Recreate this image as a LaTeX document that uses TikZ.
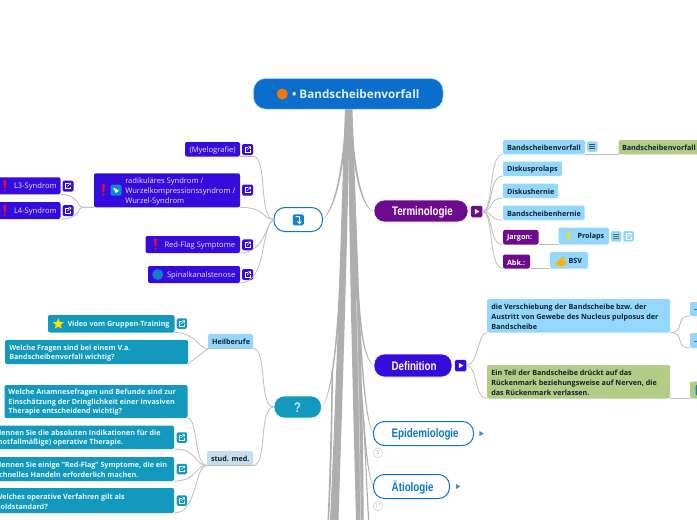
\documentclass[tikz,border=0pt]{standalone}
\usepackage{fontspec}
\setmainfont{Open Sans}
\newfontfamily\headf[FakeStretch=0.79]{Liberation Sans}
\usetikzlibrary{shapes.geometric,calc}
\definecolor{rootblue}{HTML}{0A6FCC}
\definecolor{pillblue}{HTML}{0A75D0}
\definecolor{purp}{HTML}{6D0A8E}
\definecolor{indigo}{HTML}{360CDE}
\definecolor{teal}{HTML}{1299BD}
\definecolor{sky}{HTML}{93D7FD}
\definecolor{leaf}{HTML}{B3CC85}
\definecolor{stud}{HTML}{C3DDEB}
\definecolor{ink}{HTML}{10232E}
\definecolor{trunkg}{HTML}{AEAEAE}
\definecolor{wire}{HTML}{BDBDBD}
\definecolor{bangred}{HTML}{E8101C}
\tikzset{
 x=1pt,y=-1pt,
 boxbase/.style={inner sep=0pt,outer sep=0pt,rounded corners=2pt},
 txtbase/.style={inner sep=0pt,outer sep=0pt,anchor=west,align=left,yshift=-1pt,font=\fontsize{7.2}{9.6}\selectfont\bfseries},
 indbox/.style={boxbase,fill=indigo},
 indtxt/.style={txtbase,text=white!88!indigo,font=\fontsize{7.6}{9.8}\selectfont},
 tealbox/.style={boxbase,fill=teal},
 tealtxt/.style={txtbase,text=white!92!teal},
 skybox/.style={boxbase,fill=sky},
 skytxt/.style={txtbase,text=ink},
 leafbox/.style={boxbase,fill=leaf},
 leaftxt/.style={txtbase,text=ink},
 studbox/.style={boxbase,fill=stud},
 studtxt/.style={txtbase,text=ink},
 purpbox/.style={boxbase,fill=purp},
 purptxt/.style={txtbase,text=white},
 rootbox/.style={boxbase,rounded corners=12pt,fill=rootblue,draw=white!70!rootblue,line width=.5pt},
 roottxt/.style={txtbase,yshift=1pt,text=white!88!rootblue,font=\fontsize{11.7}{14}\selectfont\bfseries},
 pillpbox/.style={boxbase,rounded corners=10.5pt,fill=purp,draw=white,line width=.6pt},
 pillptxt/.style={txtbase,text=white,font=\headf\fontsize{12.4}{14}\selectfont\bfseries},
 pillibox/.style={boxbase,rounded corners=10.5pt,fill=indigo,draw=white,line width=.6pt},
 pillitxt/.style={txtbase,text=white,font=\headf\fontsize{12.4}{14}\selectfont\bfseries},
 pilltbox/.style={boxbase,rounded corners=10.5pt,fill=teal,draw=white,line width=.6pt},
 pillttxt/.style={txtbase,text=white!75!teal,font=\headf\fontsize{14}{14}\selectfont\bfseries},
 pillwbox/.style={boxbase,rounded corners=11pt,fill=white,draw=pillblue,line width=1pt},
 pillwtxt/.style={txtbase,text=pillblue,font=\headf\fontsize{12.4}{14}\selectfont\bfseries},
 iconbox/.style={inner sep=0pt,outer sep=0pt,rounded corners=1.5pt},
 wireline/.style={draw=wire,line width=.8pt,fill=none},
 trunkfill/.style={fill=trunkg,draw=none},
 countcirc/.style={circle,draw=black!18,fill=white,line width=.6pt,inner sep=0pt,minimum size=9.5pt,text=black!35,font=\fontsize{5.5}{6}\selectfont},
}
% [style]{name}{x0}{y0}{x1}{y1}{text x}{text}
\newcommand{\mmbox}[8][sky]{%
 \node[#1box,minimum width={(#5)-(#3)},minimum height={(#6)-(#4)}] (#2) at ({((#3)+(#5))/2},{((#4)+(#6))/2}) {};
 \node[#1txt] (#2T) at (#7,{((#4)+(#6))/2}) {#8};}
\newcommand{\iconbg}[5]{\node[iconbox,fill=#5,minimum width=#4,minimum height=#4] (#1) at (#2,#3) {};}
\newcommand{\linkicon}[5]{\iconbg{#1}{#2}{#3}{#4}{#5}
 \begin{scope}[shift={(#1.center)}]
 \draw[white,line width=.55pt] (.5,-2.6) -- (-2.6,-2.6) -- (-2.6,2.6) -- (2.6,2.6) -- (2.6,.5);
 \draw[white,line width=.55pt] (-.6,.6) -- (2.6,-2.6) (.6,-2.8) -- (2.8,-2.8) -- (2.8,-.6);
 \end{scope}}
\newcommand{\menuicon}[6]{\iconbg{#1}{#2}{#3}{#4}{#5}
 \begin{scope}[shift={(#1.center)}]
 \draw[#6,line width=.6pt] (-3,-2.2) -- (3,-2.2) (-3,0) -- (3,0) (-3,2.2) -- (3,2.2);
 \end{scope}}
\newcommand{\bang}[2]{\fill[bangred] (#1-1.4,#2-5.6) -- (#1+1.4,#2-5.6) -- (#1+.7,#2+2.2) -- (#1-.7,#2+2.2) -- cycle (#1,#2+4.4) circle (1.1pt);}
\newcommand{\playicon}[3]{\fill[#3] (#1-2.2,#2-2.6) -- (#1+2.4,#2) -- (#1-2.2,#2+2.6) -- cycle;}
\begin{document}
\begin{tikzpicture}
\clip (0,0) rectangle (697,520);
\useasboundingbox (0,0) rectangle (697,520);
\fill[white] (0,0) rectangle (697,520);

% free ends of the trunk branches, equal to the node sides placed below
\coordinate (aE) at (322.5,219.5);
\coordinate (qE) at (321.5,407);
\coordinate (tW) at (374,211);
\coordinate (dW) at (374,365.5);
\coordinate (eW) at (373.5,433.5);
\coordinate (aeW) at (373.5,486.5);

% trunks
\fill[trunkfill] (345,109) .. controls (341.5,200) and (338,350) .. (330,520) -- (338.5,520) .. controls (343,380) and (348,230) .. (349.5,109) -- cycle;
\fill[trunkfill] (348,109) .. controls (349,250) and (353,400) .. (356,520) -- (363.5,520) .. controls (364,380) and (355,200) .. (352.5,109) -- cycle;
\draw[white!60!trunkg,line width=.5pt] (356.5,300) .. controls (358.5,380) and (360,450) .. (360.5,520);
% tapered branches
\fill[trunkfill] (345,125) .. controls (341.5,170) and (335,208) .. (aE) .. controls (336.5,209) and (343.5,170) .. (347,125) -- cycle;
\fill[trunkfill] (350,125) .. controls (353,170) and (361,210) .. (tW) .. controls (362.5,209) and (355,170) .. (352.5,125) -- cycle;
\fill[trunkfill] (340.8,250) .. controls (338,320) and (333,395) .. (qE) .. controls (334.5,394) and (340,320) .. (342.3,250) -- cycle;
\fill[trunkfill] (355,250) .. controls (358,320) and (362,360) .. (dW) .. controls (363,358) and (360,320) .. (356.5,250) -- cycle;
\fill[trunkfill] (358.5,320) .. controls (362,380) and (366,425) .. (eW) .. controls (367,423) and (363.5,380) .. (360,320) -- cycle;
\fill[trunkfill] (360.5,390) .. controls (363.5,430) and (367,480) .. (aeW) .. controls (368,478) and (365,430) .. (362,390) -- cycle;
\fill[trunkfill] (331.5,370) .. controls (331,430) and (329,490) .. (327.5,520) -- (329,520) .. controls (331,490) and (332.5,430) .. (333,370) -- cycle;
\fill[trunkfill] (363,420) .. controls (365,460) and (367,500) .. (368,520) -- (369.3,520) .. controls (368,500) and (366,460) .. (364.2,420) -- cycle;

% ---- nodes
\mmbox[root]{root}{253.5}{78.5}{443}{109}{292}{• Bandscheibenvorfall}
\fill[orange!90!red] (282.3,94) circle (5.5pt);

% left upper group
\mmbox[pillw]{nA}{274}{207.5}{322.5}{231.5}{300}{}
\mmbox[ind]{my}{185}{142}{240}{156.5}{189.5}{(Myelografie)}
\linkicon{myL}{247.7}{149.5}{11}{indigo}
\mmbox[ind]{ra}{94}{173.3}{240}{207.3}{125.3}{radikuläres Syndrom /\\Wurzelkompressionssyndrom /\\Wurzel-Syndrom}
\linkicon{raL}{247.7}{190}{11}{indigo}
\mmbox[ind]{la}{-10}{177.3}{60.5}{194.3}{14}{L3-Syndrom}
\linkicon{laL}{68}{186}{11}{indigo}
\mmbox[ind]{lb}{-10}{202}{60.5}{219}{14}{L4-Syndrom}
\linkicon{lbL}{68}{210.5}{11}{indigo}
\mmbox[ind]{rf}{145.5}{236}{240}{253}{164.5}{Red-Flag Symptome}
\linkicon{rfL}{247.7}{244.8}{11}{indigo}
\mmbox[ind]{sp}{148}{266}{240}{283}{167}{Spinalkanalstenose}
\linkicon{spL}{247.7}{274.5}{11}{indigo}
\bang{103.5}{190}\bang{4.8}{186}\bang{4.8}{210.5}\bang{155.5}{244.5}
\node[iconbox,fill=cyan!70!blue,minimum width=11pt,minimum height=11pt] (raI) at (116,190) {};
\fill[white] (113,187.5) -- (119,190.5) -- (116,193) -- cycle;
\node[circle,fill=cyan!60!blue,inner sep=0pt,minimum size=11pt] (spI) at (157.8,274.5) {};
\node[iconbox,fill=cyan!65!blue,minimum width=11pt,minimum height=11pt] (nAI) at (298.3,219.8) {};
\draw[white,line width=1pt] (295.5,216.5) -- (299.5,216.5) -- (299.5,222.5) (297.5,221.5) -- (299.5,223.5) -- (301.5,221.5);

% left lower group
\mmbox[pillt]{nQ}{274}{396}{321.5}{418}{294}{?}
\mmbox[sky]{he}{208}{334}{253}{348.5}{212}{Heilberufe}
\mmbox[stud]{st}{207}{451}{253}{465.5}{211}{stud. med.}
\mmbox[teal]{vi}{48}{315}{174.5}{332.5}{67.5}{Video vom Gruppen-Training}
\node[star,star points=5,star point ratio=2.2,fill=yellow!85!orange,inner sep=0pt,minimum size=11.5pt] (viS) at (58.3,324) {};
\linkicon{viL}{181.8}{323.5}{10.5}{teal}
\mmbox[teal]{wf}{5}{340}{188}{364}{9.3}{Welche Fragen sind bei einem V.a.\\Bandscheibenvorfall wichtig?}
\mmbox[teal]{an}{4.5}{385}{187.5}{418}{8.5}{Welche Anamnesefragen und Befunde sind zur\\Einschätzung der Dringlichkeit einer invasiven\\Therapie entscheidend wichtig?}
\mmbox[teal]{na}{-8}{425.5}{174}{449}{-4.5}{Nennen Sie die absoluten Indikationen für die\\(notfallmäßige) operative Therapie.}
\linkicon{naL}{181.8}{437.5}{10.5}{teal}
\mmbox[teal]{nb}{-8}{457}{174}{481}{-4.5}{Nennen Sie einige "Red-Flag" Symptome, die ein\\schnelles Handeln erforderlich machen.}
\linkicon{nbL}{181.8}{469}{10.5}{teal}
\mmbox[teal]{wo}{-8}{488}{174}{513}{-4.5}{Welches operative Verfahren gilt als\\Goldstandard?}
\linkicon{woL}{181.8}{500.5}{10.5}{teal}

% right upper group
\mmbox[pillp]{te}{374}{200}{468}{222}{392}{Terminologie}
\iconbg{teA}{476.7}{211.5}{11.5}{purp}\playicon{477}{211.5}{white}
\mmbox[sky]{ba}{503}{140}{585}{154.3}{507}{Bandscheibenvorfall}
\menuicon{baM}{592.3}{146.5}{10.5}{sky}{ink!80}
\mmbox[leaf]{gb}{618.5}{140}{710}{154.3}{622}{Bandscheibenvorfall}
\mmbox[sky]{dp}{503}{161.5}{562}{176}{507}{Diskusprolaps}
\mmbox[sky]{dh}{503}{183.5}{558}{198}{507}{Diskushernie}
\mmbox[sky]{bh}{503}{205.5}{584.5}{220}{507}{Bandscheibenhernie}
\mmbox[purp]{ja}{503}{230}{538.5}{244.5}{507}{Jargon:}
\mmbox[sky]{pr}{558.5}{227.5}{609}{244.5}{577.5}{Prolaps}
\menuicon{prM}{616.2}{236.3}{10.5}{sky}{ink!65}
\linkicon{prL}{628.5}{236.3}{10.5}{sky}
\mmbox[purp]{ab}{503}{254.5}{530}{268.5}{507}{Abk.:}
\mmbox[sky]{bs}{550}{252}{588}{268.5}{568.5}{BSV}
\fill[yellow!80!orange] (570,231) -- (566.5,236.5) -- (568.5,236.5) -- (566.5,241.5) -- (571.5,235) -- (569.3,235) -- (571.5,231) -- cycle;
\fill[orange!60!yellow] (555,265) -- (558,261) -- (563,256.5) -- (565,258) -- (562,260.5) -- (566,261) -- (566,264.5) -- (562,266) -- cycle;

% definition group
\mmbox[pilli]{de}{374}{354}{452}{377}{391.5}{Definition}
\iconbg{deA}{460.7}{365.5}{11.5}{indigo}\playicon{461}{365.5}{white}
\mmbox[sky]{dv}{487}{299}{670}{332.5}{491.3}{die Verschiebung der Bandscheibe bzw. der\\Austritt von Gewebe des Nucleus pulposus der\\Bandscheibe}
\mmbox[leaf]{dg}{487}{365}{670}{398.5}{491.3}{Ein Teil der Bandscheibe drückt auf das\\Rückenmark beziehungsweise auf Nerven, die\\das Rückenmark verlassen.}
\mmbox[sky]{sa}{690}{302}{710}{316}{694}{...}
\mmbox[sky]{sb}{690}{333}{710}{348}{694}{...}
\mmbox[leaf]{sc}{690}{381.5}{710}{398.5}{710}{}
\node[iconbox,fill=cyan!65!blue,minimum width=10pt,minimum height=11pt] (scI) at (700.5,390) {};

% outline pills
\mmbox[pillw]{ep}{373.5}{421.5}{473.5}{445.5}{391.7}{Epidemiologie}
\playicon{481.5}{433.5}{pillblue!80}
\mmbox[pillw]{ae}{373.5}{474.5}{449.5}{498.5}{391.7}{Ätiologie}
\playicon{458}{486.5}{pillblue!80}
\node[countcirc] (cfive) at (378,453) {5};
\node[countcirc] (celeven) at (378,506) {11};

% ---- connectors
\begin{scope}[wireline]
\draw (nA.west) .. controls (258,219.5) and (268,156.5) .. (myL.south east |- my.south) -- (my.south east);
\draw (nA.west) .. controls (262,219.5) and (266,207.3) .. (ra.south east);
\draw (nA.west) .. controls (266,222) and (265,253) .. (rf.south east);
\draw (nA.west) .. controls (260,225) and (268,283) .. (sp.south east);
\draw (ra.south west) -- (82,207.3) .. controls (78,207.3) and (78,194.3) .. (la.south east);
\draw (ra.south west) -- (82,207.3) .. controls (78,207.3) and (80,219) .. (lb.south east);
\draw (nQ.west) .. controls (258,407) and (268,348.5) .. (he.south east) -- (he.south west);
\draw (nQ.west) .. controls (258,407) and (268,465.5) .. (st.south east) -- (st.south west);
\draw (he.south west) .. controls (198,348.5) and (196,332.5) .. (vi.south east);
\draw (he.south west) -- (wf.south east);
\draw (st.south west) .. controls (194,465.5) and (198,418) .. (an.south east);
\draw (st.south west) .. controls (194,465.5) and (198,449) .. (na.south east);
\draw (st.south west) .. controls (194,465.5) and (198,481) .. (nb.south east);
\draw (st.south west) .. controls (194,465.5) and (198,513) .. (wo.south east);
\foreach \k in {ba,dp,dh,bh,ja,ab}{
 \draw (teA.east) .. controls (494,211.5) and (488,0 |- \k.south) .. (\k.south west);
}
\draw (ba.south east) -- (gb.south west);
\draw (ja.south east) -- (pr.south west);
\draw (ab.south east) -- (bs.south west);
\draw (deA.east) .. controls (478,365) and (478,332.5) .. (dv.south west);
\draw (deA.east) .. controls (478,366) and (474,398.5) .. (dg.south west);
\draw (dv.south east) .. controls (686,332.5) and (674,316) .. (sa.south west);
\draw (dv.south east) .. controls (686,332.5) and (674,348) .. (sb.south west);
\draw (dg.south east) -- (sc.south west);
\end{scope}
\end{tikzpicture}
\end{document}
